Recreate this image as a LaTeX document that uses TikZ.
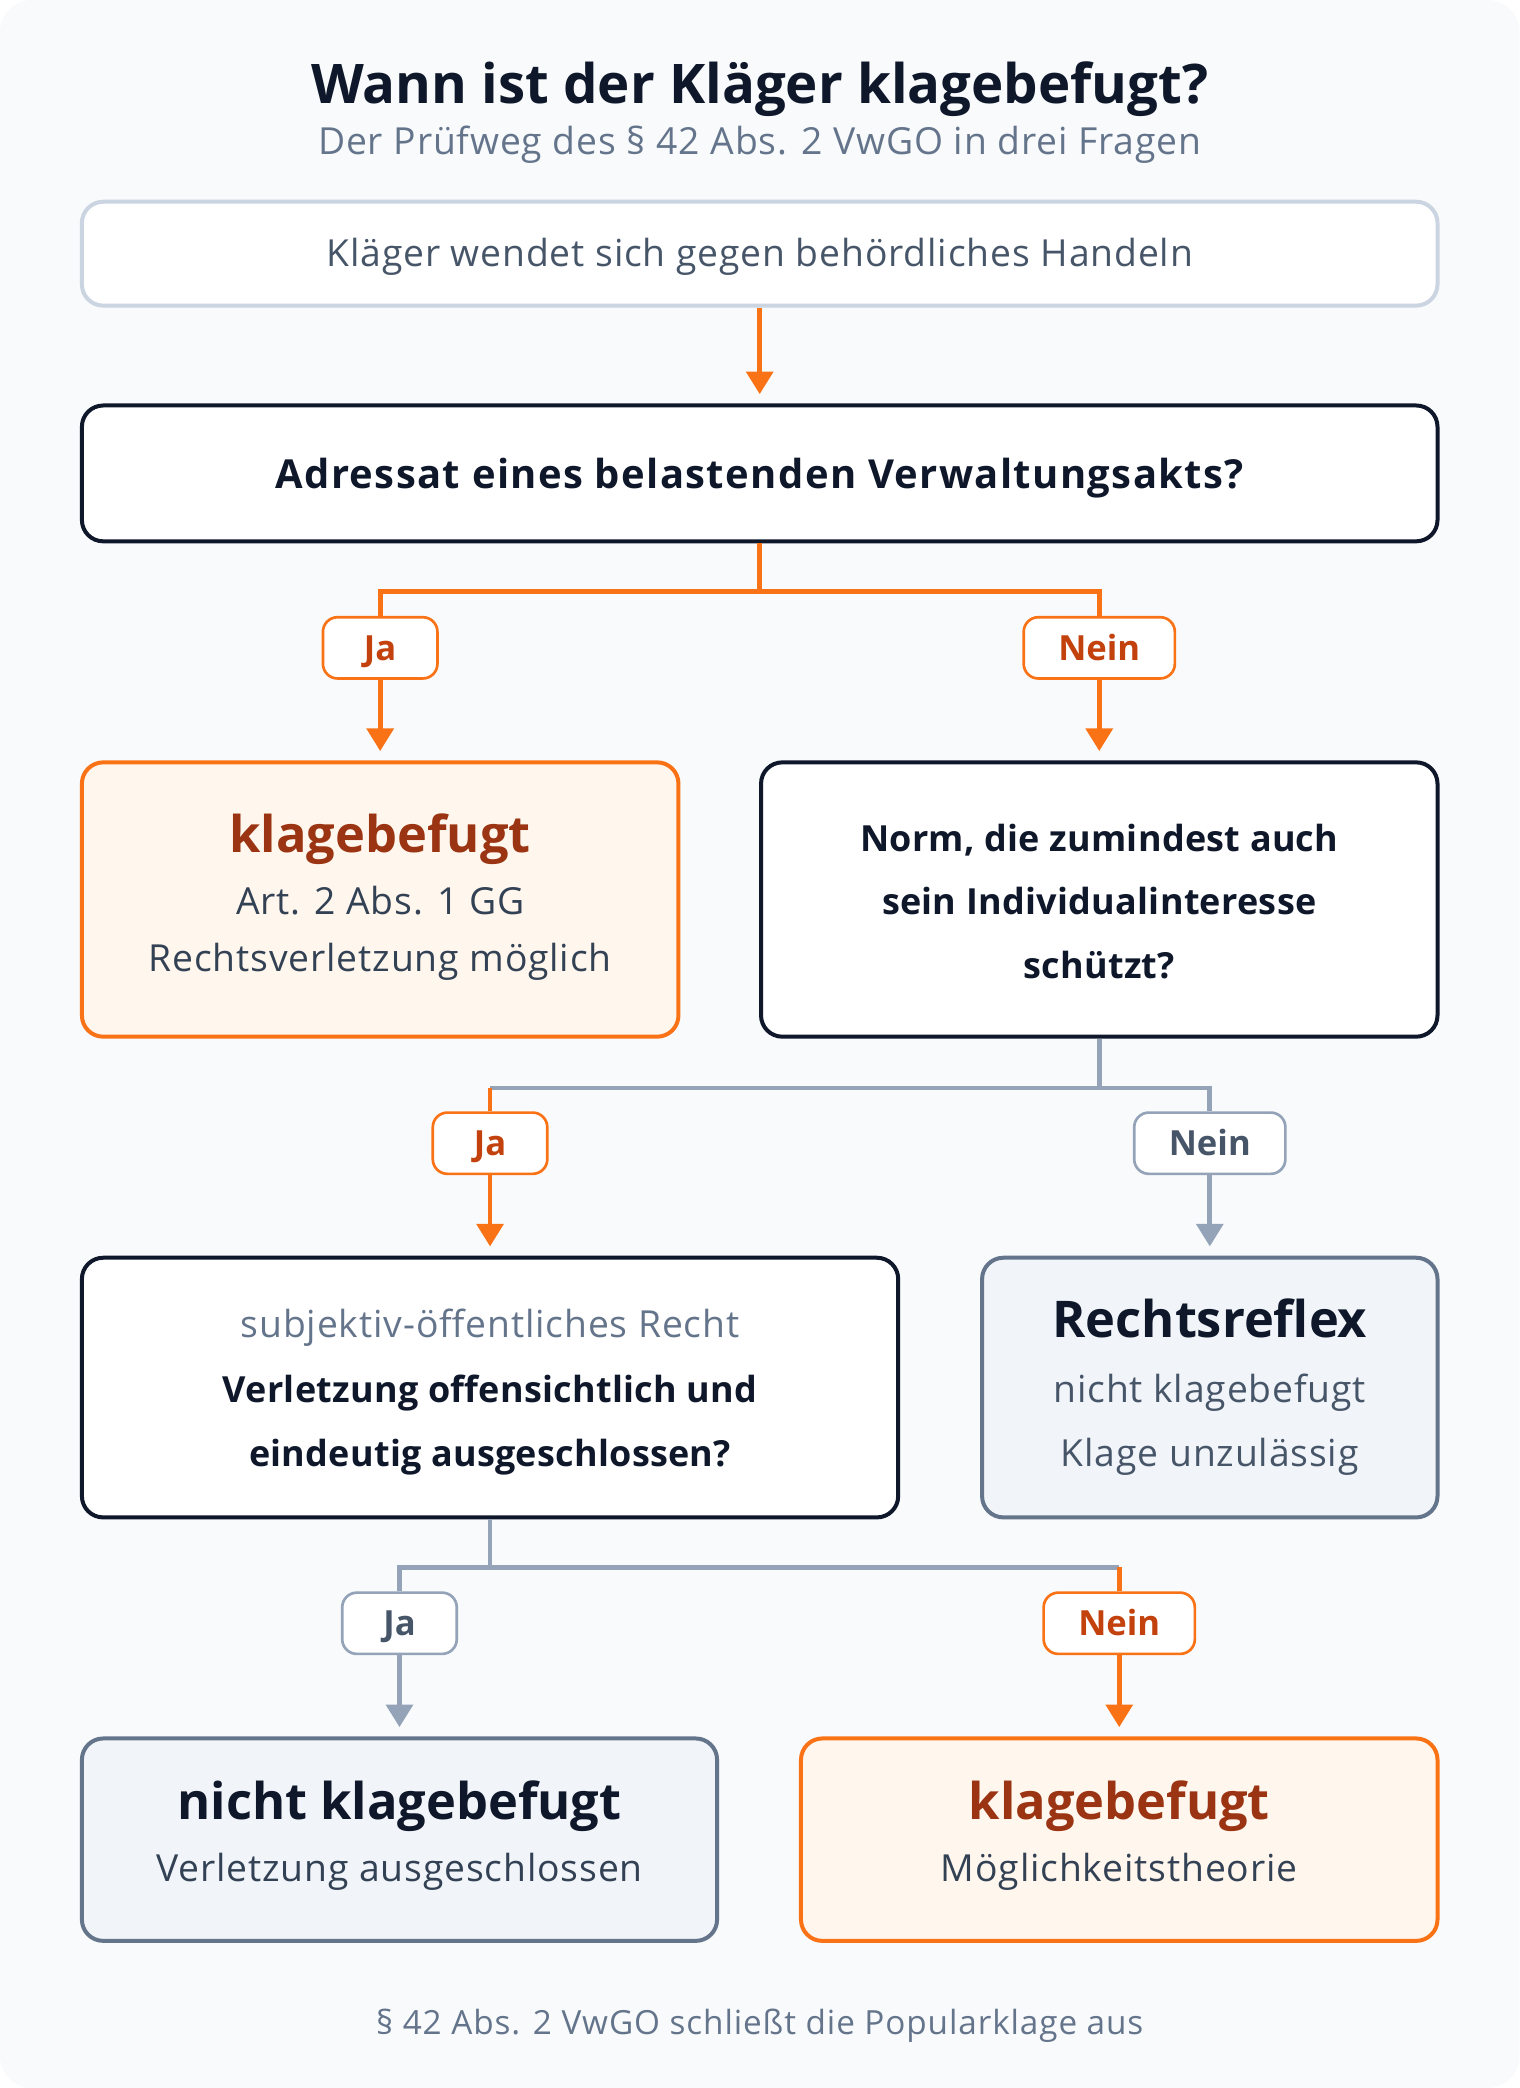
\documentclass[tikz,border=0pt]{standalone}
\usepackage{fontspec}
\setmainfont{Open Sans}
\usetikzlibrary{arrows.meta}

\definecolor{bgc}{HTML}{F8FAFC}
\definecolor{slate900}{HTML}{0F172A}
\definecolor{slate700}{HTML}{334155}
\definecolor{slate600}{HTML}{475569}
\definecolor{slate500}{HTML}{64748B}
\definecolor{slate400}{HTML}{94A3B8}
\definecolor{slate300}{HTML}{CBD5E1}
\definecolor{slate100}{HTML}{F1F5F9}
\definecolor{orange500}{HTML}{F97316}
\definecolor{orange700}{HTML}{C2410C}
\definecolor{orange800}{HTML}{9A3412}
\definecolor{orange50}{HTML}{FFF7ED}

\tikzset{
  box/.style={rectangle, rounded corners=16pt, line width=3pt, inner sep=0pt},
  startbox/.style={box, draw=slate300, fill=white},
  askbox/.style={box, draw=slate900, fill=white},
  okbox/.style={box, draw=orange500, fill=orange50},
  nobox/.style={box, draw=slate500, fill=slate100},
  tag/.style={rectangle, rounded corners=11pt, line width=2pt, fill=white,
    minimum height=46pt, minimum width=86pt, inner xsep=26pt, inner ysep=0pt,
    text height=19pt, text depth=0pt,
    font=\fontsize{26}{30}\selectfont\bfseries},
  oktag/.style={tag, draw=orange500, text=orange700},
  greytag/.style={tag, draw=slate400, text=slate600},
  oline/.style={draw=orange500, line width=3.5pt},
  gline/.style={draw=slate400, line width=3.5pt},
  tip/.style={-{Triangle[width=20pt,length=17pt]}, shorten >=7pt},
  bigtext/.style={anchor=base, font=\fontsize{38}{44}\selectfont\bfseries},
  asktext/.style={anchor=base, text=slate900, font=\fontsize{27}{32}\selectfont\bfseries\addfontfeature{LetterSpace=0.8}},
  plaintext/.style={anchor=base, font=\fontsize{28}{32}\selectfont\addfontfeature{LetterSpace=2.3}}
}

\begin{document}
\begin{tikzpicture}[x=1pt, y=-1pt]
  \useasboundingbox (0,0) rectangle (1141,1568);
  \fill[bgc, rounded corners=24pt] (0,0) rectangle (1141,1568);

  % heading
  \node[anchor=base, text=slate900, font=\fontsize{41}{48}\selectfont\bfseries] (title) at (570.5,78) {Wann ist der Kläger klagebefugt?};
  \node[plaintext, text=slate500] (subtitle) at (570.5,116) {Der Prüfweg des § 42 Abs. 2 VwGO in drei Fragen};

  % boxes
  \node[startbox, minimum width=1018pt, minimum height=78pt] (start) at (570.5,190.5) {};
  \node[askbox, minimum width=1018pt, minimum height=102pt] (q1) at (570.5,355.5) {};
  \node[okbox, minimum width=448pt, minimum height=206pt] (res1) at (285.5,675.5) {};
  \node[askbox, minimum width=508pt, minimum height=206pt] (q2) at (825.5,675.5) {};
  \node[askbox, minimum width=613pt, minimum height=195pt] (q3) at (368,1042) {};
  \node[nobox, minimum width=342pt, minimum height=195pt] (reflex) at (908.5,1042) {};
  \node[nobox, minimum width=477pt, minimum height=152pt] (res3a) at (300,1381.5) {};
  \node[okbox, minimum width=478pt, minimum height=152pt] (res3b) at (840.5,1381.5) {};

  % box texts
  \node[plaintext, text=slate600] (start-t) at (570.5,200) {Kläger wendet sich gegen behördliches Handeln};
  \node[asktext, font=\fontsize{30}{34}\selectfont\bfseries\addfontfeature{LetterSpace=3.5}] (q1-t) at (570.5,366.5) {Adressat eines belastenden Verwaltungsakts?};
  \node[bigtext, text=orange800] (res1-t) at (285.5,640) {klagebefugt};
  \node[plaintext, text=slate700] (res1-a) at (285.5,687) {Art. 2 Abs. 1 GG};
  \node[plaintext, text=slate700] (res1-b) at (285.5,729.5) {Rechtsverletzung möglich};
  \node[asktext] (q2-a) at (825.5,639.5) {Norm, die zumindest auch};
  \node[asktext] (q2-b) at (825.5,687) {sein Individualinteresse};
  \node[asktext] (q2-c) at (825.5,734.5) {schützt?};
  \node[plaintext, text=slate500] (q3-a) at (368,1004.5) {subjektiv-öffentliches Recht};
  \node[asktext] (q3-b) at (368,1053) {Verletzung offensichtlich und};
  \node[asktext] (q3-c) at (368,1101) {eindeutig ausgeschlossen?};
  \node[bigtext, text=slate900] (reflex-t) at (908.5,1004.5) {Rechtsreflex};
  \node[plaintext, text=slate600] (reflex-a) at (908.5,1053) {nicht klagebefugt};
  \node[plaintext, text=slate600] (reflex-b) at (908.5,1101) {Klage unzulässig};
  \node[bigtext, text=slate900] (res3a-t) at (300,1366) {nicht klagebefugt};
  \node[plaintext, text=slate700] (res3a-a) at (300,1413) {Verletzung ausgeschlossen};
  \node[bigtext, text=orange800] (res3b-t) at (840.5,1366) {klagebefugt};
  \node[plaintext, text=slate700] (res3b-a) at (840.5,1413) {Möglichkeitstheorie};

  % answer tags
  \node[oktag] (yes1) at (285.5,486.5) {Ja};
  \node[oktag] (no1) at (825.5,486.5) {Nein};
  \node[oktag] (yes2) at (368,858.5) {Ja};
  \node[greytag] (no2) at (908.5,858.5) {Nein};
  \node[greytag] (yes3) at (300,1219) {Ja};
  \node[oktag] (no3) at (840.5,1219) {Nein};

  \coordinate (j1) at (570.5,444);
  \coordinate (j2) at (825.5,817);
  \coordinate (j3) at (368,1177);

  % connectors
  \draw[oline, tip] (start) -- (q1);
  \draw[oline] (q1.south) -- (j1) -| (yes1.north);
  \draw[oline] (j1) -| (no1.north);
  \draw[oline, tip] (yes1) -- (res1);
  \draw[oline, tip] (no1) -- (q2);

  \draw[gline] (q2.south) -- (j2) -| (no2.north);
  \draw[gline] (j2) -- (yes2.north |- j2);
  \draw[oline] (yes2.north |- j2) -- (yes2.north);
  \draw[oline, tip] (yes2) -- (yes2 |- q3.north);
  \draw[gline, tip] (no2) -- (reflex);

  \draw[gline] (q3.south) -- (j3) -| (yes3.north);
  \draw[gline] (j3) -- (no3.north |- j3);
  \draw[oline] (no3.north |- j3) -- (no3.north);
  \draw[gline, tip] (yes3) -- (res3a);
  \draw[oline, tip] (no3) -- (res3b);

  % footer
  \node[plaintext, text=slate500, font=\fontsize{25}{30}\selectfont\addfontfeature{LetterSpace=2.7}] (foot) at (570.5,1527.5) {§ 42 Abs. 2 VwGO schließt die Popularklage aus};
\end{tikzpicture}
\end{document}
